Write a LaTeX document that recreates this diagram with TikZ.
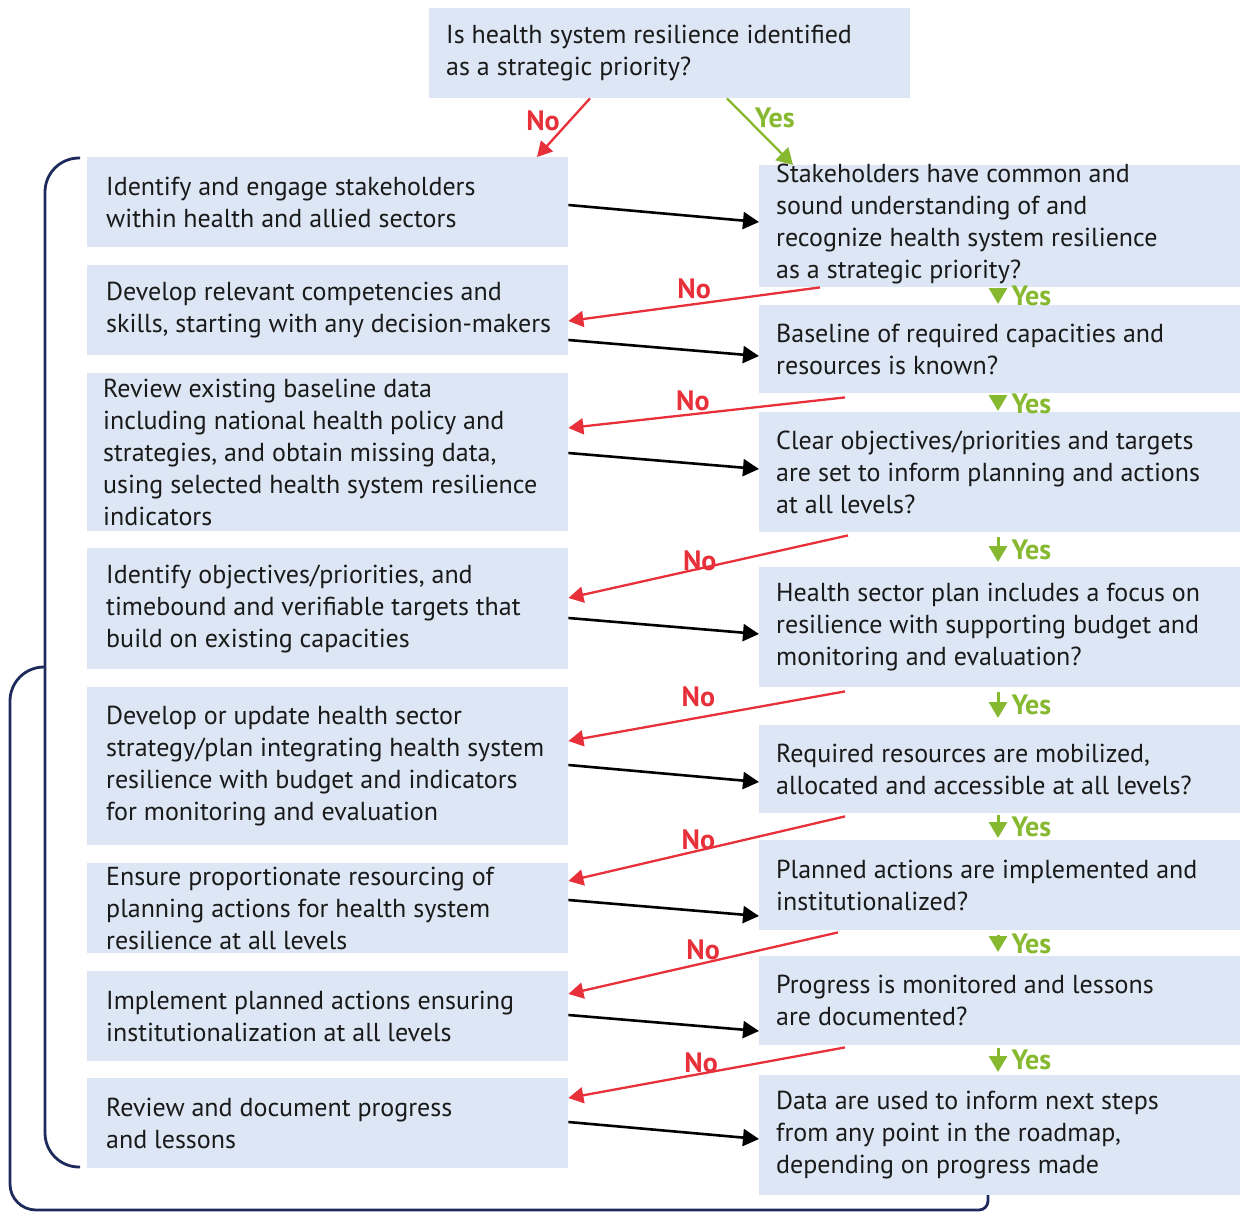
\documentclass[tikz,border=0pt]{standalone}
\usepackage{fontspec}
\setmainfont{PT Sans}
\usetikzlibrary{arrows.meta}
\definecolor{boxfill}{HTML}{DCE6F4}
\definecolor{nored}{HTML}{E8303A}
\definecolor{yesgreen}{HTML}{86B92F}
\definecolor{navy}{HTML}{1F2A5C}
\definecolor{txtc}{HTML}{1A1A1A}
\begin{document}
\begin{tikzpicture}[x=1pt,y=-1pt,
  lbox/.style={fill=boxfill, draw=none, anchor=north west, inner sep=0pt, minimum width=481pt},
  btxt/.style={anchor=west, align=left, inner sep=0pt, text=txtc, font=\fontsize{26}{32}\selectfont},
  blackarr/.style={draw=black, line width=2.6pt, -{Triangle[length=16pt,width=17pt]}},
  noarr/.style={draw=nored, line width=2.3pt, -{Triangle[length=15pt,width=16pt]}},
  yesarr/.style={draw=yesgreen, line width=3pt, -{Triangle[length=16pt,width=18pt]}},
  nolab/.style={text=nored, font=\fontsize{28}{30}\selectfont\bfseries, inner sep=1pt},
  yeslab/.style={text=yesgreen, font=\fontsize{28}{30}\selectfont\bfseries, inner sep=1pt},
  bracket/.style={draw=navy, line width=2.8pt}
]
\useasboundingbox (0,0) rectangle (1243,1213);

% top box
\node[lbox, minimum height=90pt] (top) at (429,8) {};
\node[btxt] (topt) at ([xshift=17pt]top.west) {Is health system resilience identified\\as a strategic priority?};

% left boxes
\node[lbox, minimum height=90pt] (l1) at (87,157) {};
\node[lbox, minimum height=90pt] (l2) at (87,265) {};
\node[lbox, minimum height=158pt] (l3) at (87,373) {};
\node[lbox, minimum height=121pt] (l4) at (87,548) {};
\node[lbox, minimum height=158pt] (l5) at (87,687) {};
\node[lbox, minimum height=90pt] (l6) at (87,863) {};
\node[lbox, minimum height=90pt] (l7) at (87,971) {};
\node[lbox, minimum height=90pt] (l8) at (87,1078) {};

\node[btxt] (l1t) at ([xshift=19pt]l1.west) {Identify and engage stakeholders\\within health and allied sectors};
\node[btxt] (l2t) at ([xshift=19pt]l2.west) {Develop relevant competencies and\\skills, starting with any decision-makers};
\node[btxt] (l3t) at ([xshift=16pt]l3.west) {Review existing baseline data\\including national health policy and\\strategies, and obtain missing data,\\using selected health system resilience\\indicators};
\node[btxt] (l4t) at ([xshift=19pt]l4.west) {Identify objectives/priorities, and\\timebound and verifiable targets that\\build on existing capacities};
\node[btxt] (l5t) at ([xshift=19pt]l5.west) {Develop or update health sector\\strategy/plan integrating health system\\resilience with budget and indicators\\for monitoring and evaluation};
\node[btxt] (l6t) at ([xshift=19pt]l6.west) {Ensure proportionate resourcing of\\planning actions for health system\\resilience at all levels};
\node[btxt] (l7t) at ([xshift=19pt]l7.west) {Implement planned actions ensuring\\institutionalization at all levels};
\node[btxt] (l8t) at ([xshift=19pt]l8.west) {Review and document progress\\and lessons};

% right boxes
\node[lbox, minimum height=122pt] (r1) at (759,165) {};
\node[lbox, minimum height=88pt] (r2) at (759,305) {};
\node[lbox, minimum height=120pt] (r3) at (759,412) {};
\node[lbox, minimum height=120pt] (r4) at (759,567) {};
\node[lbox, minimum height=88pt] (r5) at (759,725) {};
\node[lbox, minimum height=90pt] (r6) at (759,840) {};
\node[lbox, minimum height=89pt] (r7) at (759,956) {};
\node[lbox, minimum height=120pt] (r8) at (759,1075) {};

\node[btxt] (r1t) at ([xshift=17pt,yshift=2pt]r1.west) {Stakeholders have common and\\sound understanding of and\\recognize health system resilience\\as a strategic priority?};
\node[btxt] (r2t) at ([xshift=17pt]r2.west) {Baseline of required capacities and\\resources is known?};
\node[btxt] (r3t) at ([xshift=17pt]r3.west) {Clear objectives/priorities and targets\\are set to inform planning and actions\\at all levels?};
\node[btxt] (r4t) at ([xshift=17pt]r4.west) {Health sector plan includes a focus on\\resilience with supporting budget and\\monitoring and evaluation?};
\node[btxt] (r5t) at ([xshift=17pt]r5.west) {Required resources are mobilized,\\allocated and accessible at all levels?};
\node[btxt] (r6t) at ([xshift=17pt]r6.west) {Planned actions are implemented and\\institutionalized?};
\node[btxt] (r7t) at ([xshift=17pt]r7.west) {Progress is monitored and lessons\\are documented?};
\node[btxt] (r8t) at ([xshift=17pt]r8.west) {Data are used to inform next steps\\from any point in the roadmap,\\depending on progress made};

% top decision arrows
\draw[noarr] (top.south -| 590,0) -- (l1.north -| 537,0)
  node[nolab, pos=0.38, left=8pt] {No};
\draw[yesarr, line width=2.3pt] (top.south -| 727,0) -- (r1.north -| 793,0)
  node[yeslab, pos=0.3, right=6pt] {Yes};

% black arrows left -> right
\draw[blackarr] (l1.east |- 0,205) -- (r1.west |- 0,222);
\draw[blackarr] (l2.east |- 0,340) -- (r2.west |- 0,356);
\draw[blackarr] (l3.east |- 0,453) -- (r3.west |- 0,469);
\draw[blackarr] (l4.east |- 0,618) -- (r4.west |- 0,634);
\draw[blackarr] (l5.east |- 0,765) -- (r5.west |- 0,782);
\draw[blackarr] (l6.east |- 0,900) -- (r6.west |- 0,916);
\draw[blackarr] (l7.east |- 0,1015) -- (r7.west |- 0,1031);
\draw[blackarr] (l8.east |- 0,1122) -- (r8.west |- 0,1139);

% red No arrows right -> left
\draw[noarr] (r1.south -| 820,0) -- (l2.east |- 0,321) node[nolab, pos=0.5, above=3pt] {No};
\draw[noarr] ([yshift=-4pt]r2.south -| 845,0) -- (l3.east |- 0,428) node[nolab, pos=0.55, above=1pt] {No};
\draw[noarr] ([yshift=-3pt]r3.south -| 848,0) -- (l4.east |- 0,598) node[nolab, pos=0.53, above=-4pt] {No};
\draw[noarr] ([yshift=-4pt]r4.south -| 845,0) -- (l5.east |- 0,741) node[nolab, pos=0.53, above=9pt] {No};
\draw[noarr] ([yshift=-3pt]r5.south -| 845,0) -- (l6.east |- 0,881) node[nolab, pos=0.53, above=-1pt] {No};
\draw[noarr] ([yshift=-2pt]r6.south -| 838,0) -- (l7.east |- 0,994) node[nolab, pos=0.5, above=1pt] {No};
\draw[noarr] ([yshift=-2pt]r7.south -| 845,0) -- (l8.east |- 0,1098) node[nolab, pos=0.52, above=-1pt] {No};

% green Yes arrows
\coordinate (ya) at (998,0);
\draw[yesarr] ([yshift=-1pt]r1.south -| ya) -- ([yshift=1pt]r2.north -| ya) node[yeslab, midway, right=11pt] {Yes};
\draw[yesarr] ([yshift=-3pt]r2.south -| ya) -- ([yshift=1pt]r3.north -| ya) node[yeslab, midway, right=11pt] {Yes};
\draw[yesarr] ([yshift=-5pt]r3.south -| ya) -- ([yshift=5pt]r4.north -| ya) node[yeslab, midway, right=11pt] {Yes};
\draw[yesarr] ([yshift=-5pt]r4.south -| ya) -- ([yshift=7pt]r5.north -| ya) node[yeslab, midway, right=11pt] {Yes};
\draw[yesarr] ([yshift=-2pt]r5.south -| ya) -- ([yshift=2pt]r6.north -| ya) node[yeslab, midway, right=11pt] {Yes};
\draw[yesarr] ([yshift=-5pt]r6.south -| ya) -- ([yshift=4pt]r7.north -| ya) node[yeslab, midway, right=11pt] {Yes};
\draw[yesarr] ([yshift=-3pt]r7.south -| ya) -- ([yshift=3pt]r8.north -| ya) node[yeslab, midway, right=11pt] {Yes};

% brackets
\draw[bracket, rounded corners=34pt] (80,158) -- (45,158) -- (45,1167) -- (80,1167);
\draw[bracket] (45,667) [rounded corners=34pt] -- (10,667) [rounded corners=26pt] -- (10,1210) [rounded corners=9pt] -- (988,1210) -- (988,1195);
\end{tikzpicture}
\end{document}
